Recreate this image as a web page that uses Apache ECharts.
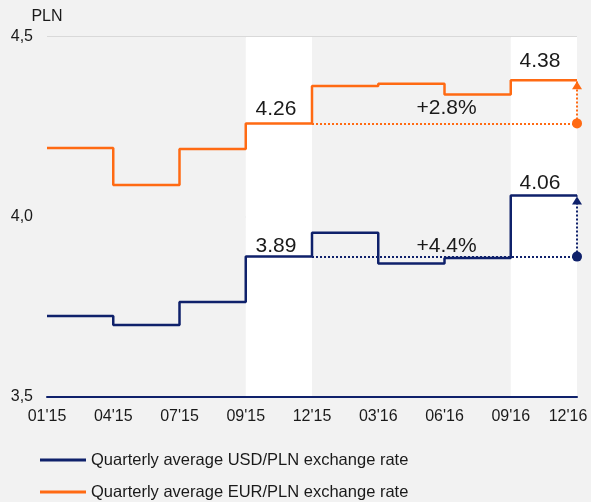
<!DOCTYPE html>
<html>
<head>
<meta charset="utf-8">
<script src="https://cdn.jsdelivr.net/npm/echarts@6/dist/echarts.min.js"></script>
<style>
  html, body { margin: 0; padding: 0; background: #f2f2f2; }
  #chart { width: 591px; height: 502px; }
</style>
</head>
<body>
<div id="chart"></div>
<script>
// quarter boundaries on the x axis
var quarters = ["01'15", "04'15", "07'15", "09'15", "12'15", "03'16", "06'16", "09'16", "12'16"];
// quarterly averages, one per quarter (last point repeats Q4'16 to close the step)
var usdRates = [3.725, 3.70, 3.764, 3.89, 3.956, 3.871, 3.886, 4.06, 4.06];
var eurRates = [4.192, 4.089, 4.189, 4.26, 4.364, 4.370, 4.340, 4.38, 4.38];
// comparison: Q4'15 vs Q4'16
var usdCompare = [3.89, 4.06];
var eurCompare = [4.26, 4.38];
var usdChange = '+4.4%';
var eurChange = '+2.8%';
var seriesNames = ['Quarterly average USD/PLN exchange rate', 'Quarterly average EUR/PLN exchange rate'];
var yTicks = [3.5, 4.0, 4.5];

var NAVY = '#0f216b';
var ORANGE = '#ff6a13';
var TEXT = '#1a1a1a';
var FONT = 'Liberation Sans, Arial, sans-serif';

//标注: 水平虚线 + 竖直箭头 + 数值
function compareMarks(color, pair, change, offs) {
    return {
        markLine: {
            silent: true,
            animation: false,
            symbolSize: 10,
            label: { show: false },
            lineStyle: { color: color, type: 'dotted', width: 2 },
            data: [
                [{ coord: [4, pair[0]], symbol: 'none' }, { coord: [8, pair[0]], symbol: 'circle' }],
                [{ coord: [8, pair[0]], symbol: 'none' }, { coord: [8, pair[1]], symbol: 'triangle', symbolSize: [10, 8], symbolOffset: [0, 5] }]
            ]
        },
        markPoint: {
            silent: true,
            animation: false,
            symbol: 'circle',
            symbolSize: 0,
            label: { show: true, position: 'inside', color: TEXT, fontSize: 21, fontFamily: FONT },
            data: [
                { coord: [4, pair[0]], label: { formatter: pair[0].toFixed(2), offset: offs[0] } },
                { coord: [8, pair[1]], label: { formatter: pair[1].toFixed(2), offset: offs[1] } },
                { coord: [6, pair[0]], label: { formatter: change, offset: offs[2] } }
            ]
        }
    };
}

var chart = echarts.init(document.getElementById('chart'), null, { renderer: 'canvas' });

var usdMarks = compareMarks(NAVY, usdCompare, usdChange, [[-36, -10], [-37, -12], [2, -10]]);
var eurMarks = compareMarks(ORANGE, eurCompare, eurChange, [[-36, -14], [-37, -19], [2, -15]]);

chart.setOption({
    animation: false,
    backgroundColor: '#f2f2f2',
    textStyle: { fontFamily: FONT },
    grid: { left: 47, right: 14, top: 37, bottom: 105, containLabel: false, outerBoundsMode: 'none' },
    legend: {
        orient: 'vertical',
        left: 40,
        top: 451,
        height: 60,
        padding: 0,
        itemWidth: 46,
        itemHeight: 3,
        itemGap: 14,
        icon: 'rect',
        textStyle: { color: TEXT, fontSize: 16.5, lineHeight: 18, fontFamily: FONT },
        data: seriesNames
    },
    xAxis: {
        type: 'category',
        boundaryGap: false,
        data: quarters,
        axisLine: { show: true, lineStyle: { color: NAVY, width: 2 } },
        axisTick: { show: false },
        axisLabel: {
            color: TEXT, fontSize: 16, margin: 12, fontFamily: FONT, interval: 0,
            formatter: function (v, i) { return i === quarters.length - 1 ? '{last|' + v + '}' : v; },
            rich: { last: { color: TEXT, fontSize: 16, fontFamily: FONT, padding: [0, 18, 0, 0] } }
        },
        splitLine: { show: false },
        splitArea: { show: true, areaStyle: { color: ['#f2f2f2', '#f2f2f2', '#f2f2f2', '#ffffff'] } }
    },
    yAxis: {
        type: 'value',
        min: yTicks[0],
        max: yTicks[yTicks.length - 1],
        interval: 0.5,
        name: 'PLN',
        nameGap: 12,
        nameTextStyle: { color: TEXT, fontSize: 16, fontFamily: FONT, align: 'center' },
        axisLine: { show: false },
        axisTick: { show: false },
        axisLabel: {
            color: TEXT, fontSize: 16, margin: 14, fontFamily: FONT,
            formatter: function (v) { return v.toFixed(1).replace('.', ','); }
        },
        splitLine: { show: true, lineStyle: { color: '#d9d9d9', width: 2 } }
    },
    series: [
        Object.assign({
            name: seriesNames[0],
            type: 'line',
            step: 'end',
            data: usdRates,
            symbol: 'none',
            color: NAVY,
            lineStyle: { color: NAVY, width: 2.5 },
            z: 3
        }, usdMarks),
        Object.assign({
            name: seriesNames[1],
            type: 'line',
            step: 'end',
            data: eurRates,
            symbol: 'none',
            color: ORANGE,
            lineStyle: { color: ORANGE, width: 2.5 },
            z: 3
        }, eurMarks)
    ]
});
</script>
</body>
</html>
